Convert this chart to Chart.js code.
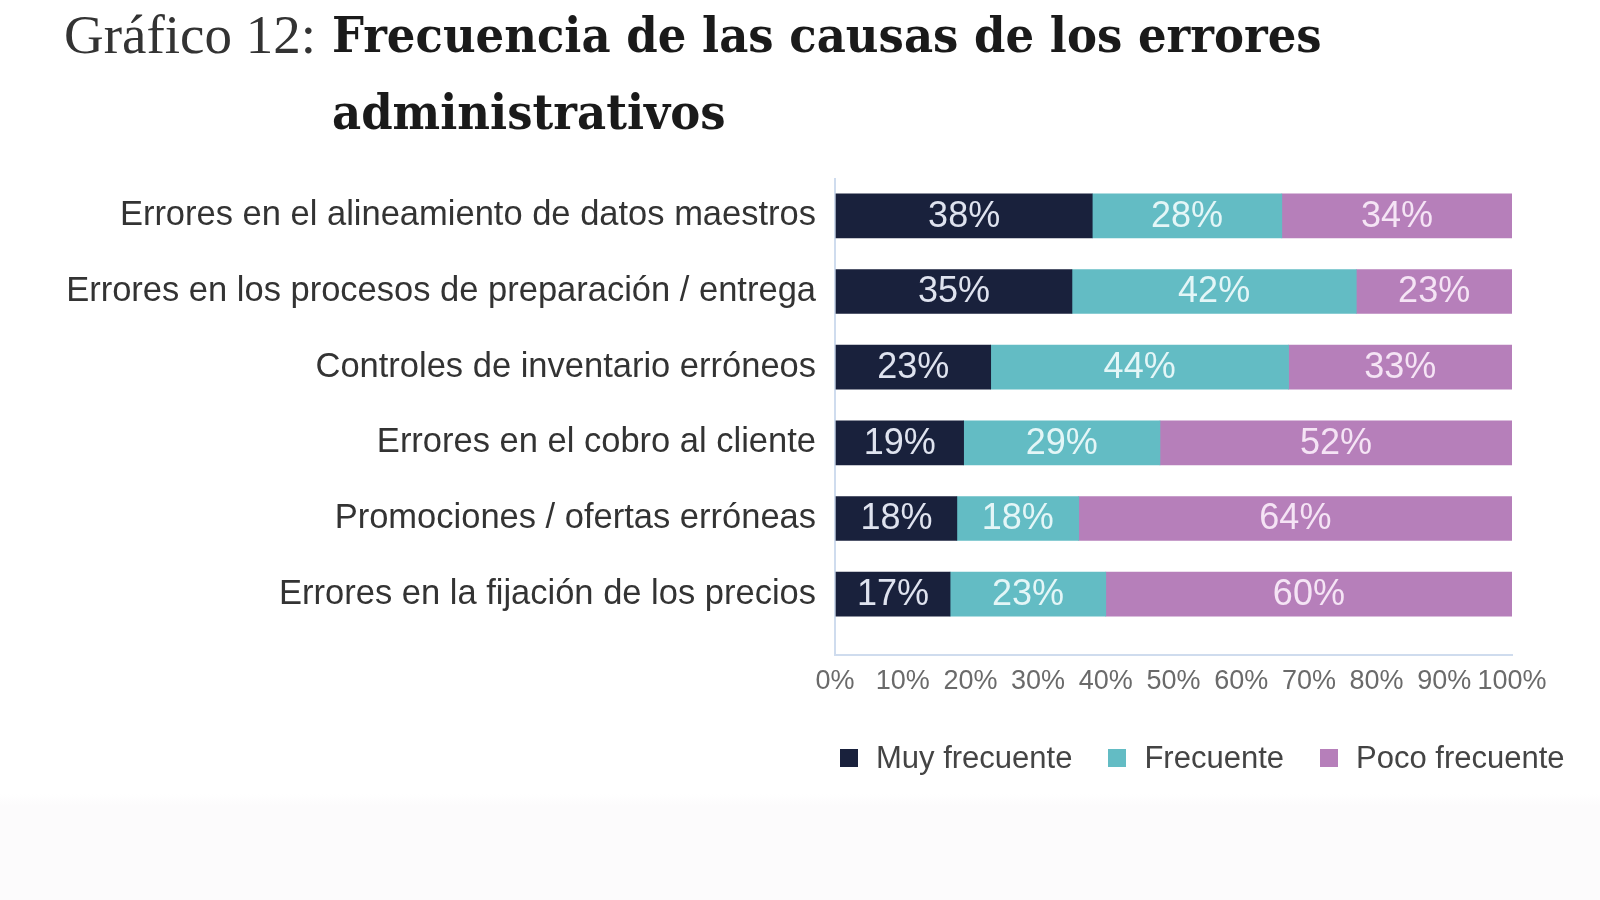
<!DOCTYPE html>
<html lang="es">
<head>
    <meta charset="UTF-8">
    <title>Gráfico 12: Frecuencia de las causas de los errores administrativos</title>
    <script src="https://cdn.jsdelivr.net/npm/chart.js"></script>
    <style>
        html, body {
            margin: 0;
            padding: 0;
            background: #ffffff;
        }
        .page {
            position: relative;
            width: 1600px;
            height: 900px;
            overflow: hidden;
            background: linear-gradient(to bottom, #ffffff 0, #ffffff 794px, #fcfbfc 806px, #fcfbfc 900px);
        }
        .titulo {
            position: absolute;
            color: #1a1a1a;
            white-space: nowrap;
        }
        .num {
            font-family: "Liberation Serif", serif;
            font-size: 55px;
            line-height: 55px;
            font-weight: normal;
            color: #333;
        }
        .fuerte {
            font-family: "DejaVu Serif", serif;
            font-size: 45px;
            line-height: 45px;
            font-weight: bold;
            transform-origin: left bottom;
            transform: scaleY(1.08);
        }
        #t1a { left: 64px; top: 7px; }
        #t1b { left: 332px; top: 15px; }
        #t2 { left: 332px; top: 92px; }
        .chart-container {
            position: absolute;
            left: 0;
            top: 0;
            width: 1600px;
            height: 900px;
        }
        #leyenda {
            position: absolute;
            left: 840px;
            top: 740px;
            font-family: "Liberation Sans", Arial, sans-serif;
            font-size: 31px;
            color: #444;
            white-space: nowrap;
        }
        #leyenda span.item {
            display: inline-block;
            margin-right: 36px;
        }
        #leyenda span.caja {
            display: inline-block;
            width: 18px;
            height: 18px;
            margin-right: 18px;
            vertical-align: 1px;
        }
    </style>
</head>
<body>
<div class="page">
    <div class="chart-container">
        <canvas id="graficoErrores"></canvas>
    </div>
    <div class="titulo num" id="t1a">Gráfico 12:</div>
    <div class="titulo fuerte" id="t1b">Frecuencia de las causas de los errores</div>
    <div class="titulo fuerte" id="t2">administrativos</div>
    <div id="leyenda"></div>
</div>

<script>
    const categorias = [
        'Errores en el alineamiento de datos maestros',
        'Errores en los procesos de preparación / entrega',
        'Controles de inventario erróneos',
        'Errores en el cobro al cliente',
        'Promociones / ofertas erróneas',
        'Errores en la fijación de los precios'
    ];
    const muyFrecuente = [38, 35, 23, 19, 18, 17];
    const frecuente = [28, 42, 44, 29, 18, 23];
    const pocoFrecuente = [34, 23, 33, 52, 64, 60];
    const ticksX = ['0%', '10%', '20%', '30%', '40%', '50%', '60%', '70%', '80%', '90%', '100%'];

    const colores = ['#19213c', '#63bcc4', '#b67fba'];
    const coloresTexto = ['#dfe3ef', '#e4f6f7', '#f5e4f5'];

    // etiquetas de porcentaje dentro de cada segmento
    const etiquetasPlugin = {
        id: 'etiquetas',
        afterDatasetsDraw(chart) {
            const ctx = chart.ctx;
            ctx.save();
            ctx.font = '36px "Liberation Sans", Arial, sans-serif';
            ctx.textAlign = 'center';
            ctx.textBaseline = 'middle';
            chart.data.datasets.forEach((ds, i) => {
                const meta = chart.getDatasetMeta(i);
                meta.data.forEach((bar, j) => {
                    const p = bar.getProps(['x', 'y', 'base']);
                    ctx.fillStyle = coloresTexto[i];
                    ctx.fillText(ds.data[j] + '%', (p.x + p.base) / 2, p.y + 1);
                });
            });
            ctx.restore();
        }
    };

    // deja hueco entre la última barra y el eje X
    const huecoPlugin = {
        id: 'hueco',
        afterLayout(chart) {
            const y = chart.scales.y;
            y.bottom = chart.chartArea.bottom - 23;
            y.height = y.bottom - y.top;
            y.configure();
        }
    };

    const ctx = document.getElementById('graficoErrores').getContext('2d');
    const grafico = new Chart(ctx, {
        type: 'bar',
        data: {
            labels: categorias,
            datasets: [
                { label: 'Muy frecuente', data: muyFrecuente, backgroundColor: colores[0] },
                { label: 'Frecuente', data: frecuente, backgroundColor: colores[1] },
                { label: 'Poco frecuente', data: pocoFrecuente, backgroundColor: colores[2] }
            ]
        },
        options: {
            indexAxis: 'y',
            responsive: true,
            maintainAspectRatio: false,
            animation: false,
            layout: {
                padding: { top: 178, right: 88, bottom: 185, left: 0 }
            },
            datasets: {
                bar: {
                    barThickness: 44,
                    borderWidth: 0
                }
            },
            scales: {
                x: {
                    stacked: true,
                    min: 0,
                    max: 100,
                    afterFit(axis) { axis.height = 60; },
                    border: { display: true, color: '#cfdcee', width: 2 },
                    grid: {
                        drawOnChartArea: true,
                        drawTicks: false,
                        color: c => c.tick && c.tick.value === 0 ? '#cfdcee' : 'rgba(0,0,0,0)',
                        lineWidth: 2
                    },
                    ticks: {
                        stepSize: 10,
                        autoSkip: false,
                        maxRotation: 0,
                        padding: 10,
                        color: '#6a6a6a',
                        font: { family: '"Liberation Sans", Arial, sans-serif', size: 27 },
                        callback: (v, i) => ticksX[i]
                    }
                },
                y: {
                    stacked: true,
                    afterFit(axis) { axis.width = 835; },
                    border: { display: false },
                    grid: { display: false, drawTicks: false },
                    ticks: {
                        padding: 19,
                        color: '#333333',
                        font: { family: '"Liberation Sans", Arial, sans-serif', size: 34.5 }
                    }
                }
            },
            plugins: {
                legend: { display: false },
                tooltip: { enabled: false }
            }
        },
        plugins: [huecoPlugin, etiquetasPlugin]
    });

    // leyenda en HTML
    const leyenda = document.getElementById('leyenda');
    grafico.data.datasets.forEach(ds => {
        const item = document.createElement('span');
        item.className = 'item';
        const caja = document.createElement('span');
        caja.className = 'caja';
        caja.style.background = ds.backgroundColor;
        item.appendChild(caja);
        item.appendChild(document.createTextNode(ds.label));
        leyenda.appendChild(item);
    });
</script>
</body>
</html>
